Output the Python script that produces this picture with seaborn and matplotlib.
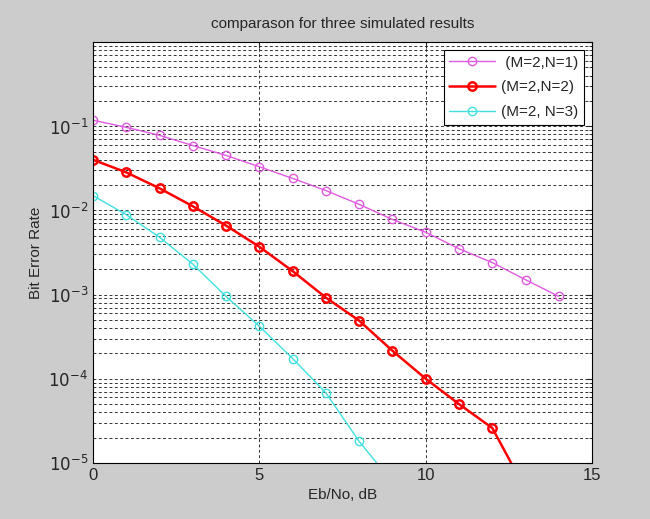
import numpy as np
import pandas as pd
import matplotlib
matplotlib.use("Agg")
import matplotlib.pyplot as plt
import seaborn as sns
from matplotlib.ticker import LogLocator, NullFormatter, FixedLocator

# ── data ──
snr_n1 = [0, 1, 2, 3, 4, 5, 6, 7, 8, 9, 10, 11, 12, 13, 14]
ber_n1 = [0.118, 0.097, 0.078, 0.059, 0.045, 0.033, 0.024, 0.0172, 0.0118,
          0.0078, 0.0055, 0.0035, 0.0024, 0.0015, 0.00095]

snr_n2 = [0, 1, 2, 3, 4, 5, 6, 7, 8, 9, 10, 11, 12, 13]
ber_n2 = [0.040, 0.0283, 0.0183, 0.0112, 0.0066, 0.0037, 0.0019, 0.00092,
          0.00049, 0.000215, 0.0001, 5.0e-5, 2.6e-5, 4.8e-6]

snr_n3 = [0, 1, 2, 3, 4, 5, 6, 7, 8, 9]
ber_n3 = [0.015, 0.0089, 0.0048, 0.0023, 0.00095, 0.00042, 0.000174,
          6.8e-5, 1.8e-5, 5.9e-6]

labels = [" (M=2,N=1)", "(M=2,N=2)", "(M=2, N=3)"]
colors = ["#e05ae0", "#ff0000", "#40e0e0"]
widths = [1.0, 1.8, 1.0]

sns.set_style("white")
plt.rcParams["font.family"] = ["Liberation Sans", "DejaVu Sans"]

fig = plt.figure(figsize=(6.5, 5.19), dpi=100, facecolor="#cccccc")
ax = fig.add_axes([0.143, 0.108, 0.768, 0.811])
ax.set_facecolor("white")

series = [(snr_n1, ber_n1), (snr_n2, ber_n2), (snr_n3, ber_n3)]
for (x, y), lab, c, lw in zip(series, labels, colors, widths):
    df = pd.DataFrame({"snr": x, "ber": y})
    sns.lineplot(data=df, x="snr", y="ber", ax=ax, color=c, lw=lw, label=lab,
                 marker="o", markersize=6, markerfacecolor="none",
                 markeredgecolor=c, markeredgewidth=lw)

ax.set_yscale("log")
ax.set_xlim(0, 15)
ax.set_ylim(1e-5, 1)
ax.set_xticks([0, 5, 10, 15])
ax.yaxis.set_major_locator(FixedLocator([1e-5, 1e-4, 1e-3, 1e-2, 1e-1, 1]))
ax.yaxis.set_minor_locator(LogLocator(base=10, subs=np.arange(2, 10)))
ax.yaxis.set_minor_formatter(NullFormatter())
ax.set_yticklabels(["$10^{-5}$", "$10^{-4}$", "$10^{-3}$", "$10^{-2}$", "$10^{-1}$", ""])

ax.tick_params(which="both", direction="in", top=True, right=True, labelsize=12)
ax.tick_params(which="major", length=4)
ax.tick_params(which="minor", length=2)
ax.grid(True, which="major", axis="both", ls=(0, (3, 2.5)), color="#333333", lw=0.7)
ax.grid(True, which="minor", axis="y", ls=(0, (3, 2.5)), color="#333333", lw=0.7)
for s in ax.spines.values():
    s.set_color("black")
    s.set_linewidth(0.8)

ax.set_title("comparason for three simulated results", fontsize=11, pad=10)
ax.set_xlabel("Eb/No, dB", fontsize=11)
ax.set_ylabel("Bit Error Rate", fontsize=11)

leg = ax.legend(loc="upper right", fontsize=11, frameon=True, fancybox=False,
                framealpha=1, edgecolor="black", borderpad=0.35,
                handlelength=3.0, handletextpad=0.4, labelspacing=0.7,
                borderaxespad=0.55)
leg.get_frame().set_linewidth(0.8)

fig.savefig("out.png", dpi=100, facecolor=fig.get_facecolor())
